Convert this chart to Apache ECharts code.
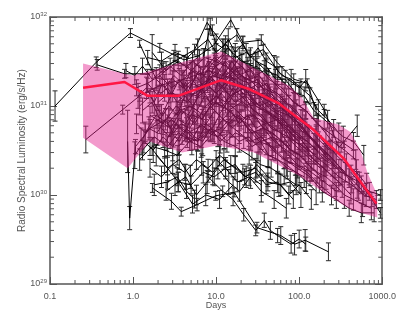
<!DOCTYPE html>
<html><head><meta charset="utf-8">
<script src="https://cdn.jsdelivr.net/npm/echarts@6/dist/echarts.min.js"></script>
<style>html,body{margin:0;padding:0;background:#fff}#c{width:399px;height:319px}</style>
</head><body><div id="c"></div>
<script>
// ---- tick labels ----
const xTickLabels = ['0.1','1.0','10.0','100.0','1000.0'];
const yTickExps = ['29','30','31','32'];
const minorMult = [2,3,4,5,6,7,8,9];

// ---- mean light curve ----
const meanT = [0.25,0.79,1.5,3.5,11.5,25,57,149,340,850];
const meanL = [1.6e31,1.86e31,1.3e31,1.3e31,1.95e31,1.55e31,1.07e31,5.4e30,2.6e30,8.0e29];

// ---- shaded band ----
const bandUpper = [[0.25,3.0e31],[0.79,2.3e31],[1.0,2.2e31],[11.5,4.1e31],[75,1.7e31],[107,1.26e31],[149,7.4e30],[297,6.2e30],[414,5.1e30],[546,3.2e30],[661,1.8e30],[871,1.0e30]];
const bandLower = [[0.25,4.4e30],[0.86,2.0e30],[1.58,4.0e30],[3.9,3.0e30],[10.3,3.6e30],[28.5,3.0e30],[98.6,1.66e30],[225,9.8e29],[425,6.8e29],[871,5.6e29]];

// ---- individual light curves: [days, L, error (dex)] ----
const curveA = [[0.115,1.0e31,0.17],[0.36,3.1e31,0.06],[0.93,6.6e31,0.05],[2.1,4.5e31,0.05],[4.1,3.3e31,0.05],[6.3,3.7e31,0.06],[9.5,4.9e31,0.06],[15,9.3e31,0.08],[21,5.2e31,0.07],[35,5.5e31,0.06],[54,3.1e31,0.06],[86,2.0e31,0.06],[125,1.8e31,0.05],[160,9.0e30,0.06]];
const curveB = [[0.37,2.9e31,0.06],[0.79,2.3e31,0.05],[1.5,2.3e31,0.05],[2.3,2.7e31,0.05],[3.4,3.3e31,0.06],[5.5,4.3e31,0.06],[7.8,8.7e31,0.08],[9.0,7.1e31,0.06],[12.4,4.9e31,0.06],[17.8,6.3e31,0.07],[25,3.7e31,0.06],[37,4.3e31,0.06],[57,2.4e31,0.06],[100,1.6e31,0.06],[120,1.95e31,0.12],[200,9.1e30,0.06],[300,3.4e30,0.06],[500,6.0e30,0.12]];
const curveC = [[0.27,4.2e30,0.15],[0.75,9.1e30,0.05],[1.2,1.3e31,0.06],[2.1,1.7e31,0.08],[4.1,2.0e31,0.1],[8.2,2.5e31,0.1],[16.5,2.0e31,0.08],[33,1.3e31,0.1],[65,9.0e30,0.1],[130,4.7e30,0.1],[260,2.5e30,0.1],[520,1.1e30,0.1]];
const curveD = [[0.86,4.0e30,0.35],[0.91,5.5e29,0.13],[1.07,3.5e30,0.08],[1.6,5.6e30,0.1],[2.7,7.4e30,0.1],[4.5,5.0e30,0.1],[7.5,6.3e30,0.1]];
const curveE = [[1.71,1.2e30,0.05],[2.9,8.5e29,0.09],[3.8,6.5e29,0.05],[5.9,7.8e29,0.07],[9.9,9.8e29,0.05],[16.5,1.07e30,0.05],[31,4.3e29,0.06],[60,3.5e29,0.1],[88,2.8e29,0.12],[118,3.1e29,0.12],[225,2.3e29,0.1]];
const curveF = [[8,1.6e30,0.06],[12,1.1e30,0.06],[16,8.9e29,0.07],[21.5,6.0e29,0.07],[30,4.0e29,0.06],[38,5.2e29,0.08],[45,4.0e29,0.1],[55,3.5e29,0.08],[80,2.8e29,0.1],[100,3.2e29,0.1],[120,2.8e29,0.08]];
const curveG = [[1.8,1.3e30,0.12],[2.6,1.4e30,0.08],[3.4,1.6e30,0.1],[4.4,1.1e30,0.08],[5.5,9.0e29,0.1]];
const curveH = [[420,1.8e30,0.08],[560,1.3e30,0.1],[750,8.9e29,0.08],[950,6.3e29,0.06]];

const band01 = [[1.2,1.0e31,0.1],[1.6,1.3e31,0.08],[2.2,7.9e30,0.12],[3.0,1.4e31,0.1],[4.5,1.1e31,0.09],[6,1.6e31,0.11],[8,2.0e31,0.1],[11,1.8e31,0.08],[15,1.3e31,0.12],[22,1.6e31,0.1],[30,1.0e31,0.09],[45,7.9e30,0.11],[70,5.6e30,0.1],[100,4.0e30,0.12]];
const band02 = [[1.4,5.0e30,0.12],[2,7.1e30,0.1],[2.8,5.6e30,0.09],[3.8,8.9e30,0.11],[5.5,6.3e30,0.1],[7.5,1.0e31,0.08],[10,1.3e31,0.12],[14,8.9e30,0.1],[20,1.1e31,0.09],[28,7.9e30,0.11],[40,6.3e30,0.1],[55,7.1e30,0.12],[80,4.0e30,0.1],[120,2.8e30,0.09],[180,2.0e30,0.11]];
const band03 = [[1.1,1.6e31,0.09],[1.5,1.8e31,0.1],[2.1,2.2e31,0.12],[2.9,1.6e31,0.1],[4,2.0e31,0.08],[5.5,2.5e31,0.11],[7,2.2e31,0.1],[9.5,3.2e31,0.09],[13,2.8e31,0.12],[18,2.2e31,0.1],[26,2.5e31,0.08],[36,1.6e31,0.11],[50,1.4e31,0.1],[75,1.0e31,0.12],[110,7.1e30,0.1],[160,5.0e30,0.09],[240,3.2e30,0.11]];
const band04 = [[2.5,4.0e30,0.1],[3.2,6.3e30,0.12],[4.2,5.0e30,0.09],[5.2,7.9e30,0.1],[6.8,7.1e30,0.11],[9,1.1e31,0.08],[12,1.0e31,0.1],[16,1.4e31,0.12],[21,1.1e31,0.1],[29,8.9e30,0.09],[42,6.3e30,0.11],[60,5.0e30,0.1],[90,4.0e30,0.12],[130,2.8e30,0.1],[200,2.0e30,0.09],[300,1.4e30,0.11],[420,1.0e30,0.1]];
const band05 = [[1.3,3.2e30,0.11],[1.8,4.5e30,0.1],[2.6,3.5e30,0.12],[3.5,5.0e30,0.09],[5,4.0e30,0.1],[6.5,6.3e30,0.11],[8.5,5.0e30,0.1],[11.5,5.6e30,0.08],[16,7.9e30,0.12],[24,6.3e30,0.1],[35,4.0e30,0.09],[48,4.5e30,0.11],[65,3.2e30,0.1],[95,2.2e30,0.12],[140,1.8e30,0.1]];
const band06 = [[3,2.0e31,0.1],[4,1.6e31,0.09],[5,2.5e31,0.11],[6.5,2.2e31,0.1],[8,3.2e31,0.12],[10,2.8e31,0.1],[13,4.0e31,0.08],[17,3.2e31,0.11],[23,2.5e31,0.1],[31,2.8e31,0.09],[43,2.0e31,0.12],[62,1.6e31,0.1],[85,1.1e31,0.11],[120,8.9e30,0.1],[170,6.3e30,0.09],[250,4.0e30,0.12],[350,3.2e30,0.1],[480,2.5e30,0.11]];
const band07 = [[1.6,7.9e30,0.1],[2.3,6.3e30,0.12],[3.3,1.0e31,0.1],[4.6,7.9e30,0.09],[6.2,1.3e31,0.11],[8.4,1.6e31,0.1],[11,1.3e31,0.08],[15,2.0e31,0.12],[20,1.6e31,0.1],[27,1.3e31,0.09],[38,1.4e31,0.11],[52,8.9e30,0.1],[74,7.9e30,0.12],[100,5.6e30,0.1],[150,4.0e30,0.09],[220,2.8e30,0.11]];
const band08 = [[4.5,5.0e30,0.1],[6,4.0e30,0.11],[7.5,6.3e30,0.09],[9,5.6e30,0.12],[11,7.9e30,0.1],[14,6.3e30,0.08],[18,7.9e30,0.11],[24,5.6e30,0.1],[33,4.0e30,0.12],[47,3.5e30,0.1],[68,2.5e30,0.09],[95,2.0e30,0.11],[135,1.6e30,0.1],[190,1.1e30,0.12],[280,8.9e29,0.1],[400,7.1e29,0.09],[560,6.3e29,0.11],[800,6.3e29,0.1]];
const band09 = [[1.2,2.5e30,0.12],[1.7,3.5e30,0.1],[2.4,3.2e30,0.09],[3.4,2.8e30,0.11],[4.8,4.0e30,0.1],[6.6,3.5e30,0.12],[9.2,5.0e30,0.1],[12.5,4.0e30,0.08],[17,3.5e30,0.11],[25,2.8e30,0.1],[34,2.2e30,0.12],[46,2.0e30,0.1],[66,1.6e30,0.09],[92,1.3e30,0.11]];
const band10 = [[5,1.3e31,0.1],[7,1.6e31,0.12],[9,2.2e31,0.1],[12,2.0e31,0.09],[15,2.5e31,0.11],[19,2.0e31,0.1],[25,1.8e31,0.08],[32,2.0e31,0.12],[44,1.4e31,0.1],[60,1.1e31,0.09],[82,7.9e30,0.11],[115,6.3e30,0.1],[160,4.5e30,0.12],[230,3.2e30,0.1]];
const band11 = [[2,1.1e31,0.09],[2.7,1.4e31,0.11],[3.7,1.3e31,0.1],[5,1.8e31,0.12],[6.8,1.6e31,0.1],[9,2.2e31,0.08],[12.5,2.0e31,0.11],[17,2.5e31,0.1],[23,2.0e31,0.09],[32,1.8e31,0.12],[45,1.3e31,0.1],[63,1.0e31,0.11],[88,7.1e30,0.1],[125,5.0e30,0.09],[175,3.5e30,0.12],[250,2.5e30,0.1],[360,1.8e30,0.11]];
const band12 = [[8,1.0e31,0.1],[10,1.3e31,0.09],[13,1.1e31,0.12],[16,1.6e31,0.1],[20,1.3e31,0.11],[26,1.0e31,0.1],[34,1.1e31,0.08],[45,7.9e30,0.12],[60,7.1e30,0.1],[80,5.0e30,0.09],[110,4.0e30,0.11],[150,2.8e30,0.1],[210,2.2e30,0.12],[300,1.6e30,0.1],[430,1.3e30,0.09],[600,1.0e30,0.11],[850,8.9e29,0.1]];
const band13 = [[1.1,6.3e30,0.11],[1.4,5.0e30,0.1],[1.9,7.9e30,0.12],[2.6,6.3e30,0.1],[3.6,8.9e30,0.09],[5,1.0e31,0.11],[7,7.9e30,0.1],[10,1.1e31,0.12],[14,8.9e30,0.1],[19,7.1e30,0.08],[27,7.9e30,0.11],[38,5.6e30,0.1],[54,4.5e30,0.12],[75,3.5e30,0.1]];
const band14 = [[3.5,3.5e30,0.1],[4.5,4.5e30,0.12],[6,4.0e30,0.1],[8,5.0e30,0.09],[10.5,4.5e30,0.11],[14,6.3e30,0.1],[19,5.0e30,0.12],[26,4.0e30,0.1],[35,4.5e30,0.08],[48,3.2e30,0.11],[66,2.5e30,0.1],[90,2.2e30,0.12],[125,1.8e30,0.1],[175,1.3e30,0.09],[245,1.0e30,0.11]];
const band15 = [[10,2.8e31,0.1],[12,3.2e31,0.11],[15,2.5e31,0.09],[19,3.5e31,0.12],[24,2.8e31,0.1],[30,2.2e31,0.08],[38,2.5e31,0.11],[50,1.8e31,0.1],[66,1.4e31,0.12],[88,1.1e31,0.1],[120,8.9e30,0.09],[165,6.3e30,0.11],[230,5.0e30,0.1],[320,4.0e30,0.12],[450,3.2e30,0.1]];
const band16 = [[1.5,1.8e31,0.1],[2,1.3e31,0.12],[2.6,1.6e31,0.1],[3.4,1.1e31,0.09],[4.4,1.4e31,0.11],[5.8,1.3e31,0.1],[7.6,1.8e31,0.08],[10,1.4e31,0.12],[13,1.8e31,0.1],[17,1.4e31,0.09],[22,1.6e31,0.11],[29,1.1e31,0.1],[40,8.9e30,0.12],[56,7.1e30,0.1],[78,5.0e30,0.09],[110,3.5e30,0.11],[160,2.8e30,0.1]];
const band17 = [[6,4.5e30,0.11],[7.5,5.6e30,0.1],[9.5,5.0e30,0.12],[12,7.1e30,0.1],[15.5,5.6e30,0.09],[20,7.1e30,0.11],[27,5.0e30,0.1],[37,5.6e30,0.08],[50,4.0e30,0.12],[70,3.2e30,0.1],[100,2.5e30,0.11],[140,1.8e30,0.1],[200,1.4e30,0.12],[280,1.1e30,0.1]];
const band18 = [[20,1.4e31,0.1],[26,1.3e31,0.09],[33,1.0e31,0.11],[42,1.1e31,0.1],[55,7.9e30,0.12],[72,6.3e30,0.1],[95,5.0e30,0.08],[125,4.0e30,0.11],[165,3.2e30,0.1],[220,2.5e30,0.12],[300,2.0e30,0.1],[400,1.6e30,0.09],[530,1.4e30,0.11],[700,1.1e30,0.1],[950,1.0e30,0.06]];
const band19 = [[1.3,8.9e30,0.14],[1.7,1.1e31,0.12],[2.1,7.1e30,0.16],[2.7,1.0e31,0.13],[3.4,7.9e30,0.15],[4.2,1.3e31,0.12],[5.3,1.0e31,0.14],[6.7,1.6e31,0.16],[8.5,1.1e31,0.13],[10.5,1.8e31,0.15],[13.5,1.4e31,0.12],[17,1.1e31,0.14],[22,1.3e31,0.16],[28,8.9e30,0.13],[36,7.9e30,0.15],[46,5.6e30,0.12],[60,5.0e30,0.14],[78,3.5e30,0.13]];
const band20 = [[2.2,5.6e30,0.15],[2.8,4.5e30,0.13],[3.5,7.1e30,0.14],[4.3,6.3e30,0.16],[5.4,8.9e30,0.12],[6.8,7.1e30,0.15],[8.5,1.0e31,0.13],[10.8,7.9e30,0.14],[13.7,1.1e31,0.16],[17.5,8.9e30,0.12],[22.5,7.1e30,0.15],[29,7.9e30,0.13],[37,5.6e30,0.14],[48,5.0e30,0.16],[62,4.0e30,0.12],[80,3.2e30,0.15],[105,2.8e30,0.13],[140,2.0e30,0.14],[185,1.6e30,0.12]];
const band21 = [[1.9,2.0e31,0.13],[2.4,1.6e31,0.15],[3.1,2.2e31,0.12],[3.9,1.8e31,0.14],[4.9,1.6e31,0.16],[6.2,2.5e31,0.13],[7.9,2.0e31,0.15],[9.8,2.8e31,0.12],[12.3,2.2e31,0.14],[15.5,3.2e31,0.16],[19.8,2.2e31,0.13],[25,2.0e31,0.15],[32,1.6e31,0.12],[41,1.8e31,0.14],[53,1.1e31,0.16],[69,8.9e30,0.13],[90,7.1e30,0.15],[118,5.0e30,0.12],[155,4.0e30,0.14],[205,2.8e30,0.13],[270,2.2e30,0.15]];
const band22 = [[3.8,7.9e30,0.14],[4.7,1.0e31,0.12],[5.9,8.9e30,0.15],[7.3,1.3e31,0.13],[9.1,1.0e31,0.16],[11.4,1.4e31,0.14],[14.3,1.1e31,0.12],[18,1.6e31,0.15],[23,1.3e31,0.13],[30,1.0e31,0.14],[39,8.9e30,0.16],[51,7.1e30,0.12],[67,5.6e30,0.15],[88,4.0e30,0.13],[115,3.5e30,0.14],[150,2.5e30,0.12],[195,2.0e30,0.15],[255,1.6e30,0.13],[330,1.3e30,0.14]];
const band23 = [[1.25,4.0e30,0.15],[1.55,5.6e30,0.13],[1.95,5.0e30,0.14],[2.45,7.1e30,0.12],[3.05,5.0e30,0.16],[3.8,6.3e30,0.13],[4.8,5.6e30,0.15],[6,7.9e30,0.12],[7.6,6.3e30,0.14],[9.6,8.9e30,0.16],[12,7.1e30,0.13],[15,6.3e30,0.15],[19,7.9e30,0.12],[24,5.6e30,0.14],[31,5.0e30,0.13],[40,4.0e30,0.15],[52,3.2e30,0.12]];
const band24 = [[6.5,2.0e31,0.13],[8.1,2.5e31,0.15],[10.2,2.2e31,0.12],[12.8,3.2e31,0.14],[16.2,2.5e31,0.16],[20.5,2.8e31,0.13],[26,2.0e31,0.15],[33,2.2e31,0.12],[42,1.6e31,0.14],[54,1.4e31,0.13],[70,1.1e31,0.15],[92,8.9e30,0.12],[120,6.3e30,0.14],[160,5.0e30,0.16],[210,4.0e30,0.13],[280,2.8e30,0.15],[370,2.2e30,0.12],[490,1.8e30,0.14],[650,1.3e30,0.13]];
const band25 = [[1.15,1.3e31,0.14],[1.45,1.6e31,0.12],[1.8,1.1e31,0.15],[2.25,1.8e31,0.13],[2.85,1.3e31,0.16],[3.6,2.0e31,0.12],[4.5,1.4e31,0.14],[5.7,2.2e31,0.13],[7.2,1.6e31,0.15],[9.1,2.0e31,0.12],[11.5,1.6e31,0.14],[14.5,2.2e31,0.16],[18.3,1.8e31,0.13],[23,1.4e31,0.15],[29,1.6e31,0.12],[37,1.1e31,0.14],[47,8.9e30,0.13],[60,7.9e30,0.15],[77,5.6e30,0.12],[100,4.5e30,0.14],[130,3.2e30,0.13]];
const band26 = [[12,7.1e30,0.15],[15,8.9e30,0.13],[19,6.3e30,0.14],[24,7.9e30,0.12],[30,5.6e30,0.16],[38,6.3e30,0.13],[48,4.5e30,0.15],[61,4.0e30,0.12],[78,3.2e30,0.14],[100,2.8e30,0.13],[128,2.2e30,0.15],[165,1.8e30,0.12],[210,1.6e30,0.14],[270,1.3e30,0.13],[350,1.0e30,0.15],[450,8.9e29,0.12],[580,7.9e29,0.14],[740,7.1e29,0.13]];
const band27 = [[2.9,5.0e30,0.13],[3.6,4.0e30,0.15],[4.4,5.6e30,0.12],[5.5,4.5e30,0.14],[6.9,4.0e30,0.16],[8.6,5.6e30,0.13],[10.8,5.0e30,0.15],[13.5,4.0e30,0.12],[17,5.0e30,0.14],[21.5,4.5e30,0.13],[27,3.5e30,0.15],[34,4.0e30,0.12],[43,2.8e30,0.14],[55,2.5e30,0.16],[70,2.2e30,0.13],[90,1.8e30,0.15],[115,1.6e30,0.12]];
const band28 = [[40,8.9e30,0.14],[50,7.9e30,0.12],[63,6.3e30,0.15],[80,5.6e30,0.13],[100,4.5e30,0.14],[125,4.0e30,0.16],[160,3.2e30,0.12],[200,2.5e30,0.15],[250,2.2e30,0.13],[320,1.8e30,0.14],[400,1.6e30,0.12],[500,1.3e30,0.15],[640,1.0e30,0.13]];
const band29 = [[1.05,2.8e30,0.15],[1.35,4.0e30,0.13],[1.75,3.2e30,0.14],[2.3,4.5e30,0.12],[3,3.5e30,0.16],[3.9,5.0e30,0.13],[5.1,4.0e30,0.15],[6.6,4.5e30,0.12],[8.6,5.6e30,0.14],[11.2,4.0e30,0.13],[14.6,5.0e30,0.15],[19,4.0e30,0.12],[24.7,4.5e30,0.14],[32,3.5e30,0.16],[42,2.8e30,0.13],[55,2.5e30,0.15],[72,2.0e30,0.12],[94,1.8e30,0.14],[122,1.4e30,0.13],[160,1.1e30,0.15]];
const band30 = [[4.1,1.6e31,0.14],[5.2,2.0e31,0.12],[6.6,1.4e31,0.15],[8.3,2.2e31,0.13],[10.4,1.8e31,0.16],[13.1,2.5e31,0.14],[16.5,2.0e31,0.12],[20.8,2.2e31,0.15],[26.2,1.6e31,0.13],[33,1.8e31,0.14],[41.6,1.3e31,0.12],[52.5,1.1e31,0.15],[66,8.9e30,0.13],[83,7.1e30,0.14],[105,6.3e30,0.16],[132,4.5e30,0.12],[166,3.5e30,0.15],[210,2.8e30,0.13]];

const above01 = [[1.5,3.5e31,0.08],[2.2,3.2e31,0.1],[3.2,4.0e31,0.09],[4.5,3.5e31,0.11],[6,4.5e31,0.1],[8,5.6e31,0.12],[10,4.0e31,0.1],[13,5.0e31,0.09],[17,3.5e31,0.11],[23,4.0e31,0.1],[30,3.2e31,0.08],[40,2.5e31,0.12],[55,2.2e31,0.1],[75,1.6e31,0.09],[100,1.3e31,0.11]];
const above02 = [[7,3.5e31,0.1],[8.5,7.9e31,0.09],[10,5.0e31,0.11],[12,4.5e31,0.1],[14,5.6e31,0.12],[17,4.0e31,0.1],[21,5.0e31,0.08],[26,3.5e31,0.11],[32,4.5e31,0.1],[40,3.2e31,0.09],[50,2.8e31,0.12],[62,2.2e31,0.1],[80,2.0e31,0.11],[105,1.6e31,0.1],[135,1.3e31,0.09],[170,8.9e30,0.12],[220,7.1e30,0.1],[300,5.0e30,0.11]];
const above03 = [[1.2,5.0e31,0.04],[1.9,2.0e31,0.1],[2.8,2.8e31,0.09],[3.8,2.2e31,0.11],[5.2,3.2e31,0.1],[7,2.5e31,0.12],[9.5,3.5e31,0.1],[13,2.8e31,0.09]];
const above04 = [[1.7,4.0e31,0.2],[2.5,2.5e31,0.1],[3.5,3.2e31,0.11],[5,2.5e31,0.09],[7.2,3.5e31,0.1],[10,3.2e31,0.12],[14,4.5e31,0.1],[20,3.2e31,0.09],[28,2.8e31,0.11]];
const above05 = [[30,3.2e31,0.1],[40,2.8e31,0.09],[52,2.0e31,0.11],[68,2.0e31,0.1],[90,1.4e31,0.12],[115,1.3e31,0.1],[150,8.9e30,0.09],[200,7.1e30,0.11],[260,5.6e30,0.1],[340,4.5e30,0.12],[450,4.0e30,0.1],[600,2.8e30,0.11]];
const above06 = [[0.82,2.5e31,0.08],[1.05,2.2e31,0.1],[1.3,2.8e31,0.09],[1.7,2.0e31,0.11],[2.3,2.5e31,0.1],[3.1,3.2e31,0.12],[4.4,2.8e31,0.1],[6,3.5e31,0.09]];

const below01 = [[1.6,2.0e30,0.1],[2.2,1.6e30,0.12],[3,2.2e30,0.1],[4.2,1.8e30,0.09],[5.8,2.5e30,0.11],[8,2.0e30,0.1],[11,2.8e30,0.12],[15,2.2e30,0.1],[21,1.8e30,0.09],[30,2.0e30,0.11],[42,1.4e30,0.1],[60,1.3e30,0.12],[85,8.9e29,0.1]];
const below02 = [[2.5,1.1e30,0.1],[3.5,1.4e30,0.11],[5,1.3e30,0.1],[7,1.8e30,0.12],[9.5,1.6e30,0.1],[13,2.0e30,0.09],[18,1.4e30,0.11],[25,1.6e30,0.1],[35,1.1e30,0.12],[50,8.9e29,0.1],[70,7.1e29,0.11]];
const below03 = [[1.6,3.5e30,0.1],[2.4,2.2e30,0.09],[3.5,1.4e30,0.11],[5.2,7.9e29,0.1],[7.5,1.0e30,0.12],[11,8.9e29,0.1],[16,1.3e30,0.09]];
const below04 = [[10,2.5e30,0.1],[13,2.0e30,0.12],[17,2.2e30,0.1],[22,1.6e30,0.09],[30,1.8e30,0.11],[40,1.3e30,0.1],[55,1.4e30,0.12],[75,1.0e30,0.1],[100,1.3e30,0.09],[140,8.9e29,0.11]];
const below05 = [[1.9,2.8e30,0.12],[2.6,2.0e30,0.14],[3.6,2.5e30,0.11],[4.9,1.6e30,0.13],[6.7,2.2e30,0.12],[9.1,1.8e30,0.14],[12.4,2.5e30,0.11],[16.9,2.0e30,0.13],[23,1.6e30,0.12],[31,2.2e30,0.14],[42,1.6e30,0.11],[57,1.3e30,0.13],[78,1.4e30,0.12],[105,1.0e30,0.14]];
const below06 = [[3.2,1.3e30,0.12],[4.3,1.6e30,0.14],[5.8,1.0e30,0.11],[7.8,1.4e30,0.13],[10.5,2.0e30,0.12],[14.2,1.4e30,0.14],[19.2,1.1e30,0.11],[26,1.6e30,0.13],[35,1.3e30,0.12]];

const curves = [curveA,curveB,curveC,curveD,curveE,curveF,curveG,curveH,
  band01,band02,band03,band04,band05,band06,band07,band08,band09,band10,band11,band12,band13,band14,band15,
  band16,band17,band18,band19,band20,band21,band22,band23,band24,band25,band26,band27,band28,band29,band30,
  above01,above02,above03,above04,above05,above06,below01,below02,below03,below04,below05,below06];

// ---- chart ----
const FONT = 'Liberation Sans';
const chart = echarts.init(document.getElementById('c'), null, {renderer:'canvas'});
const series = [];
curves.forEach(function(c){
  series.push({type:'line', data:c.map(function(p){return [p[0],p[1]];}), showSymbol:false, symbol:'none',
    lineStyle:{color:'#000', width:1}, z:2, silent:true, animation:false});
});
const allPts = [].concat.apply([], curves);
series.push({type:'custom', data:allPts, z:2, clip:true, silent:true, animation:false,
  encode:{x:0,y:1},
  renderItem:function(params, api){
    const t=api.value(0), L=api.value(1), e=api.value(2);
    const f=Math.pow(10,e);
    const p1=api.coord([t,L/f]), p2=api.coord([t,L*f]);
    const w=2.5, st={stroke:'#2a2a2a', lineWidth:1};
    return {type:'group', children:[
      {type:'line', shape:{x1:p1[0],y1:p1[1],x2:p2[0],y2:p2[1]}, style:st},
      {type:'line', shape:{x1:p1[0]-w,y1:p1[1],x2:p1[0]+w,y2:p1[1]}, style:st},
      {type:'line', shape:{x1:p2[0]-w,y1:p2[1],x2:p2[0]+w,y2:p2[1]}, style:st}
    ]};
  }});
series.push({type:'custom', data:[[1,1e30]], z:3, silent:true, animation:false,
  renderItem:function(params, api){
    const pts = bandUpper.map(function(p){return api.coord(p);})
      .concat(bandLower.slice().reverse().map(function(p){return api.coord(p);}));
    return {type:'polygon', shape:{points:pts}, style:{fill:'rgba(228,30,142,0.45)'}};
  }});
series.push({type:'line', data:meanT.map(function(t,i){return [t,meanL[i]];}), showSymbol:false, symbol:'none',
  lineStyle:{color:'#ff1744', width:2.5}, z:4, silent:true, animation:false});
// minor ticks
const minorData = [];
[0.1,1,10,100].forEach(function(d){minorMult.forEach(function(m){minorData.push([d*m,1e30,0]);});});
[1e29,1e30,1e31].forEach(function(d){minorMult.forEach(function(m){minorData.push([1,d*m,1]);});});
series.push({type:'custom', data:minorData, z:5, silent:true, animation:false,
  renderItem:function(params, api){
    const r=params.coordSys; const st={stroke:'#555', lineWidth:1}; const len=4;
    if(api.value(2)===0){
      const x=api.coord([api.value(0),1e30])[0];
      return {type:'group',children:[
        {type:'line',shape:{x1:x,y1:r.y+r.height,x2:x,y2:r.y+r.height-len},style:st},
        {type:'line',shape:{x1:x,y1:r.y,x2:x,y2:r.y+len},style:st}]};
    } else {
      const y=api.coord([1,api.value(1)])[1];
      return {type:'group',children:[
        {type:'line',shape:{x1:r.x,y1:y,x2:r.x+len,y2:y},style:st},
        {type:'line',shape:{x1:r.x+r.width,y1:y,x2:r.x+r.width-len,y2:y},style:st}]};
    }
  }});

const axisLineStyle = {color:'#555', width:1.5};
chart.setOption({
  animation:false,
  grid:{left:50, right:15, top:17, bottom:35},
  xAxis:[
    {type:'log', logBase:10, min:0.1, max:1000, name:'Days', nameLocation:'middle', nameGap:17, nameMoveOverlap:false,
     nameTextStyle:{fontFamily:FONT, fontSize:9, color:'#555', verticalAlign:'top'},
     axisLine:{show:true, lineStyle:axisLineStyle},
     axisTick:{show:true, inside:true, length:7, lineStyle:{color:'#555'}},
     splitLine:{show:false},
     axisLabel:{fontFamily:FONT, fontSize:9, color:'#555', margin:8,
       formatter:function(v){return xTickLabels[Math.round(Math.log10(v))+1];}}},
    {type:'log', logBase:10, min:0.1, max:1000, position:'top',
     axisLine:{show:true, lineStyle:axisLineStyle},
     axisTick:{show:true, inside:true, length:7, lineStyle:{color:'#555'}},
     splitLine:{show:false}, axisLabel:{show:false}}
  ],
  yAxis:[
    {type:'log', logBase:10, min:1e29, max:1e32, name:'Radio Spectral Luminosity (erg/s/Hz)',
     nameLocation:'middle', nameGap:23, nameMoveOverlap:false,
     nameTextStyle:{fontFamily:FONT, fontSize:10, color:'#555'},
     axisLine:{show:true, lineStyle:axisLineStyle},
     axisTick:{show:true, inside:true, length:7, lineStyle:{color:'#555'}},
     splitLine:{show:false},
     axisLabel:{fontFamily:FONT, fontSize:9, color:'#555', margin:3,
       formatter:function(v){return '{b|10}{s|'+yTickExps[Math.round(Math.log10(v))-29]+'}';},
       rich:{b:{fontFamily:FONT, fontSize:9, color:'#555', lineHeight:12},
             s:{fontFamily:FONT, fontSize:6, color:'#555', verticalAlign:'top', lineHeight:6}}}},
    {type:'log', logBase:10, min:1e29, max:1e32, position:'right',
     axisLine:{show:true, lineStyle:axisLineStyle},
     axisTick:{show:true, inside:true, length:7, lineStyle:{color:'#555'}},
     splitLine:{show:false}, axisLabel:{show:false}}
  ],
  series:series
});
</script></body></html>
